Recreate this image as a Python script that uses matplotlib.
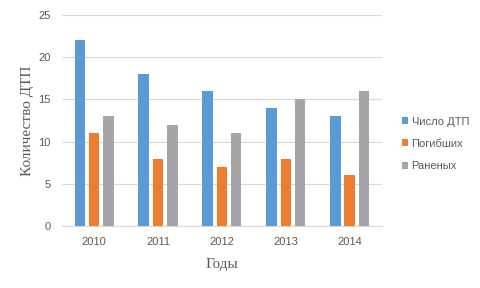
import numpy as np
import matplotlib
matplotlib.use("Agg")
import matplotlib.pyplot as plt

years = ["2010", "2011", "2012", "2013", "2014"]
accidents = [22, 18, 16, 14, 13]
killed = [11, 8, 7, 8, 6]
injured = [13, 12, 11, 15, 16]

series = [("Число ДТП", accidents, "#5B9BD5"),
          ("Погибших", killed, "#ED7D31"),
          ("Раненых", injured, "#A5A5A5")]

fig = plt.figure(figsize=(4.81, 2.88), dpi=100)
ax = fig.add_axes([0.129, 0.215, 0.665, 0.733])

x = np.arange(len(years))
width = 0.17
step = 0.22
for i, (name, vals, color) in enumerate(series):
    ax.bar(x + (i - 1) * step, vals, width, color=color, label=name, zorder=3)

ax.set_xlim(-0.5, 4.5)
ax.set_ylim(0, 25)
ax.set_yticks(range(0, 26, 5))
ax.set_xticks(x)
ax.set_xticklabels(years)
ax.grid(axis="y", color="#d9d9d9", linewidth=0.8, zorder=0)
for s in ["top", "right", "left"]:
    ax.spines[s].set_visible(False)
ax.spines["bottom"].set_color("#d9d9d9")
ax.tick_params(length=0, labelsize=8, labelcolor="#595959", pad=8)
for lab in ax.get_xticklabels() + ax.get_yticklabels():
    lab.set_family("Liberation Sans")

ax.set_xlabel("Годы", family="Liberation Serif", fontsize=11, color="#595959", labelpad=8)
ax.set_ylabel("Количество ДТП", family="Liberation Serif", fontsize=11, color="#595959", labelpad=3)

leg = ax.legend(loc="center left", bbox_to_anchor=(1.03, 0.39), frameon=False,
                prop={"family": "Liberation Sans", "size": 8},
                handlelength=0.6, handleheight=0.6, handletextpad=0.3, labelspacing=1.1)
for t in leg.get_texts():
    t.set_color("#595959")

fig.savefig("out.png", dpi=100)
